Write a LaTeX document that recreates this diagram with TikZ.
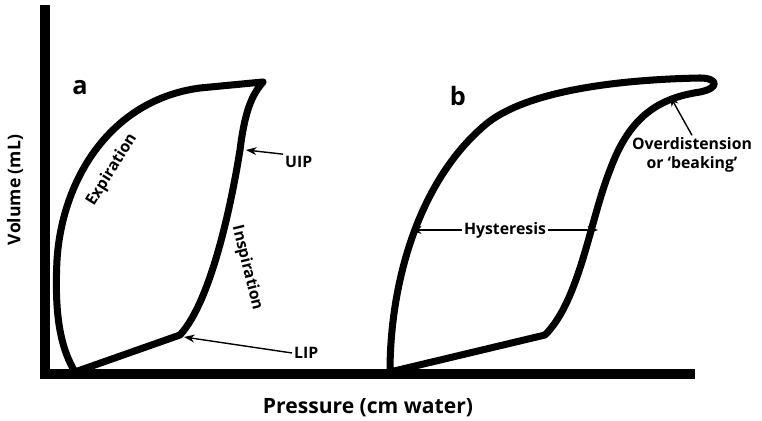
\documentclass[tikz,border=0pt]{standalone}
\usepackage{fontspec}
\setmainfont{Open Sans}
\usetikzlibrary{arrows.meta}
\tikzset{
  curve/.style={line width=4pt, line join=round},
  axis/.style={line width=6pt},
  lab/.style={font=\bfseries\small, inner sep=1pt},
  pointer/.style={line width=0.8pt, -{Stealth[length=6pt]}}
}
\begin{document}
\begin{tikzpicture}[x=0.02cm, y=-0.02cm]
\useasboundingbox (0,0) rectangle (762,421);
% axes
\draw[axis] (45,5) -- (45,374) -- (695,374);
\node[font=\bfseries, rotate=90] (ylab) at (15,190) {Volume (mL)};
\node[font=\bfseries\large] (xlab) at (368,408) {Pressure (cm water)};
% loop a
\draw[curve] (75,372) -- (180,335) .. controls (212,300) and (232,200) .. (240,150)
  .. controls (245,110) and (252,95) .. (263,82) -- (200,88)
  .. controls (110,100) and (62,180) .. (57,260)
  .. controls (54,320) and (62,350) .. (75,372);
% loop b
\draw[curve] (390,372) -- (545,335) .. controls (580,300) and (590,220) .. (610,170)
  .. controls (630,115) and (660,98) .. (700,92)
  .. controls (720,88) and (718,78) .. (700,78)
  .. controls (600,80) and (520,95) .. (485,125)
  .. controls (420,180) and (390,280) .. (390,372);
\node[font=\bfseries\Large] (a) at (80,88) {a};
\node[font=\bfseries\Large] (b) at (458,96) {b};
\node[lab, rotate=58] (exp) at (112,170) {Expiration};
\node[lab, rotate=-76] (insp) at (247,268) {Inspiration};
% markers
\coordinate (uipPt) at (246,150);
\coordinate (lipPt) at (184,337);
\coordinate (hysL) at (411,230);
\coordinate (hysR) at (598,230);
\coordinate (beakPt) at (670,96);
\node[lab, anchor=west] (uip) at (283,162) {UIP};
\node[lab, anchor=west] (lip) at (292,353) {LIP};
\node[lab] (hys) at (505,230) {Hysteresis};
\node[lab, align=center] (over) at (692,155) {Overdistension\\or `beaking'};
\draw[pointer] (uip.north west) -- (uipPt);
\draw[pointer] (lip.west) -- (lipPt);
\draw[pointer] (hys.west) -- (hysL);
\draw[pointer] (hys.east) -- (hysR);
\draw[pointer] (over.north) -- (beakPt);
\end{tikzpicture}
\end{document}
